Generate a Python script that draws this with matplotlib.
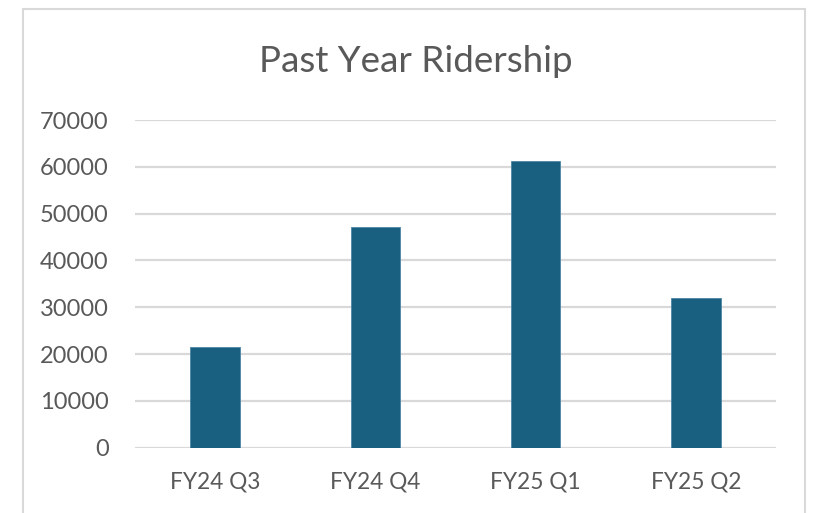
import matplotlib.pyplot as plt
from matplotlib.patches import Rectangle

# values
quarters = ["FY24 Q3", "FY24 Q4", "FY25 Q1", "FY25 Q2"]
riders = [21600, 47100, 61300, 31900]
y_ticks = [0, 10000, 20000, 30000, 40000, 50000, 60000, 70000]

bar_color = "#185F80"
text_color = "#595959"
grid_color = "#D9D9D9"

plt.rcParams['font.family'] = ['Lato', 'DejaVu Sans']

W, H = 815, 513
fig = plt.figure(figsize=(W / 100, H / 100), dpi=100)

# chart border like an Excel chart area
fig.patches.append(Rectangle((23 / W, -0.05), (805 - 23) / W, 1.05 - 9 / H,
                             transform=fig.transFigure, fill=False,
                             edgecolor=grid_color, linewidth=1.5))

ax = fig.add_axes([135 / W, 1 - 447.7 / H, (776 - 135) / W, (447.7 - 120) / H])

x = range(len(quarters))
ax.bar(x, riders, width=0.31, color=bar_color, edgecolor="#4C86A3",
       linewidth=0.6, zorder=3)

ax.set_xlim(-0.5, len(quarters) - 0.5)
ax.set_ylim(0, 70000)
ax.set_yticks(y_ticks)
ax.set_yticklabels([str(v) for v in y_ticks])
ax.set_xticks(list(x))
ax.set_xticklabels(quarters)

ax.grid(axis='y', color=grid_color, linewidth=1.6, zorder=0)
ax.set_axisbelow(True)
for s in ax.spines.values():
    s.set_visible(False)
ax.tick_params(axis='both', length=0, labelcolor=text_color)
ax.tick_params(axis='y', pad=19, labelsize=17)
ax.tick_params(axis='x', pad=17, labelsize=16.3)

fig.text(416 / W, 1 - 61 / H, "Past Year Ridership", ha='center', va='center',
         fontsize=26.5, color=text_color)

fig.savefig("out.png", dpi=100)
